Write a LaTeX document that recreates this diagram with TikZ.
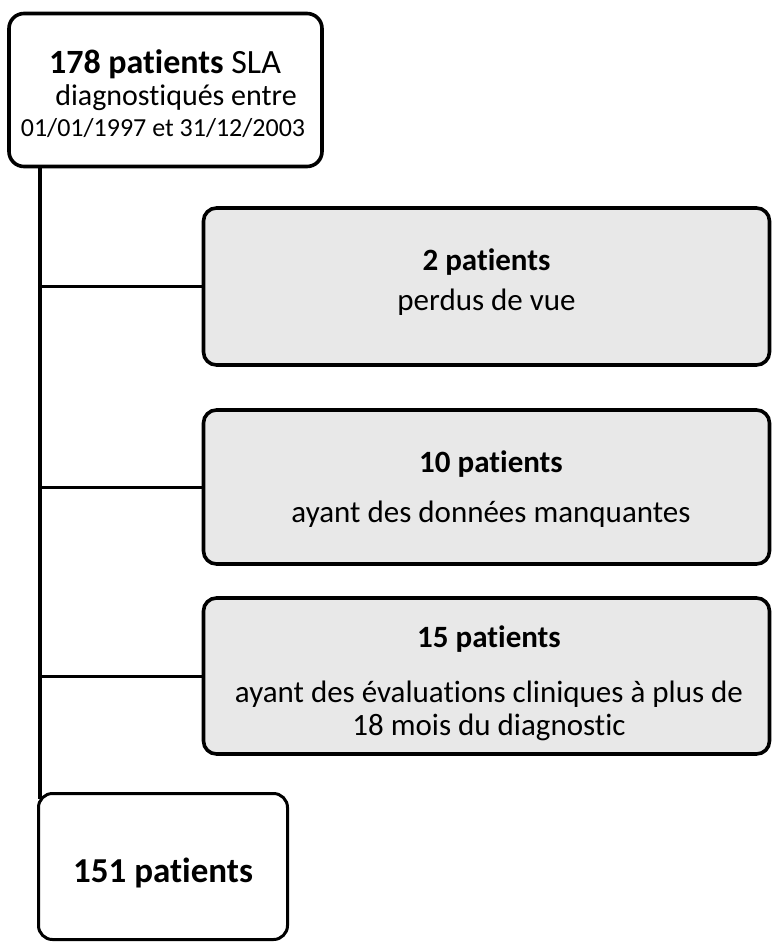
\documentclass[tikz,border=0pt]{standalone}
\usepackage{fontspec}
\setmainfont{Carlito}[Ligatures={NoCommon}]
\begin{document}
\begin{tikzpicture}[x=1pt,y=-1pt,
  whitebox/.style={draw=black,line width=3.6pt,rounded corners=15pt,fill=white,inner sep=0pt},
  graybox/.style={draw=black,line width=3.6pt,rounded corners=13pt,fill=black!9,inner sep=0pt,
    minimum width=566pt},
  link/.style={draw=black,line width=3pt},
  trunk/.style={draw=black,line width=3.6pt},
  txt/.style={anchor=base,inner sep=0pt,font=\fontsize{31}{37}\selectfont},
  ttl/.style={txt,font=\fontsize{31}{37}\selectfont\bfseries}]
\useasboundingbox (0,0) rectangle (772,943);
% boxes
\node[whitebox,minimum width=313pt,minimum height=153pt] (top) at (165.5,90) {};
\node[graybox,minimum height=157pt] (b1) at (486.5,286.5) {};
\node[graybox,minimum height=154pt] (b2) at (486.5,487) {};
\node[graybox,minimum height=156pt] (b3) at (486.5,676) {};
\node[whitebox,line width=3pt,rounded corners=14pt,minimum width=249pt,minimum height=146pt] (bot) at (163,866.5) {};
% trunk and branches
\coordinate (v) at (40,0);
\draw[trunk] (top.south -| v) -- ([yshift=-7pt]bot.north -| v);
\draw[link] (b1.west -| v) -- (b1.west);
\draw[link] (b2.west -| v) -- (b2.west);
\draw[link] (b3.west -| v) -- (b3.west);
% texts
\node[txt,font=\fontsize{34}{40}\selectfont] (t1) at (165,73) {\textbf{178 patients} SLA};
\node[txt,font=\fontsize{30}{36}\selectfont] (t2) at (176,105) {diagnostiqués entre};
\node[txt,font=\fontsize{26}{31}\selectfont] (t3) at (163,136) {01/01/1997 et 31/12/2003};
\node[ttl] (a1) at (486.5,270) {2 patients};
\node[txt] (a2) at (486.5,310) {perdus de vue};
\node[ttl] (c1) at (491,472) {10 patients};
\node[txt] (c2) at (491,522) {ayant des données manquantes};
\node[ttl] (d1) at (489,647) {15 patients};
\node[txt] (d2) at (489,702) {ayant des évaluations cliniques à plus de};
\node[txt] (d3) at (489,735) {18 mois du diagnostic};
\node[txt,font=\fontsize{35}{42}\selectfont\bfseries] (e1) at (163,882) {151 patients};
\end{tikzpicture}
\end{document}
